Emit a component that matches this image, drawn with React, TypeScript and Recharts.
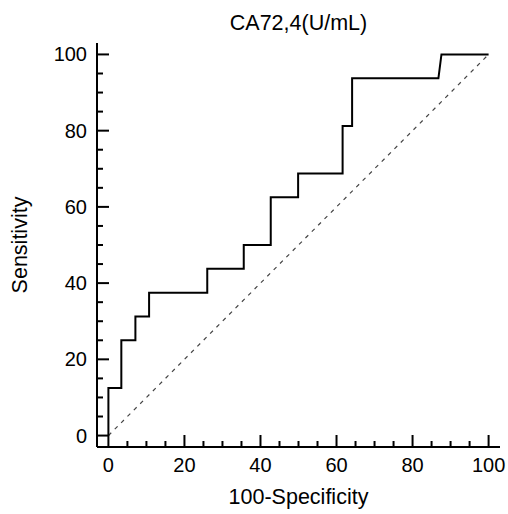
import { LineChart, Line, XAxis, YAxis, Label } from 'recharts';

// ROC curve corner points
const fpr = [0, 0, 3.4, 3.4, 7.1, 7.1, 10.7, 10.7, 26, 26, 35.6, 35.6, 42.7, 42.7, 49.9, 49.9, 61.6, 61.6, 64.1, 64.1, 86.8, 87.6, 100];
const tpr = [0, 12.5, 12.5, 25, 25, 31.25, 31.25, 37.5, 37.5, 43.75, 43.75, 50, 50, 62.5, 62.5, 68.75, 68.75, 81.25, 81.25, 93.75, 93.75, 100, 100];
const diagX = [0, 100];
const diagY = [0, 100];
const axisTicks = [0, 5, 10, 15, 20, 25, 30, 35, 40, 45, 50, 55, 60, 65, 70, 75, 80, 85, 90, 95, 100];

const rocData = fpr.map((x, i) => ({ x, y: tpr[i] }));
const diagData = diagX.map((x, i) => ({ x, y: diagY[i] }));

const FONT = '"Liberation Sans", Arial, sans-serif';

const XTick = (props: any) => {
  const { x, y, payload } = props;
  const major = payload.value % 20 === 0;
  return (
    <g>
      <line x1={x} x2={x} y1={y} y2={y - (major ? 12 : 6)} stroke="#000" strokeWidth={2} />
      {major && (
        <text x={x} y={y + 25} textAnchor="middle" fontSize={20} fontFamily={FONT} fill="#000">
          {payload.value}
        </text>
      )}
    </g>
  );
};

const YTick = (props: any) => {
  const { x, y, payload } = props;
  const major = payload.value % 20 === 0;
  return (
    <g>
      <line x1={x} x2={x + (major ? 12 : 6)} y1={y} y2={y} stroke="#000" strokeWidth={2} />
      {major && (
        <text x={x - 10} y={y + 7} textAnchor="end" fontSize={20} fontFamily={FONT} fill="#000">
          {payload.value}
        </text>
      )}
    </g>
  );
};

export default function App() {
  return (
    <div style={{ position: 'absolute', left: 0, top: 0, width: 508, height: 514, background: '#fff' }}>
      <div
        style={{
          position: 'absolute',
          left: 97,
          width: 403,
          top: 11,
          textAlign: 'center',
          fontFamily: FONT,
          fontSize: 21.5,
          lineHeight: '24px',
          color: '#000',
        }}
      >
        CA72,4(U/mL)
      </div>
      <LineChart width={508} height={514} margin={{ top: 43, right: 8, bottom: 0, left: 0 }}>
        <XAxis
          dataKey="x"
          type="number"
          domain={[-3, 103]}
          allowDataOverflow
          ticks={axisTicks}
          interval={0}
          tickSize={0}
          tickMargin={0}
          tickLine={false}
          tick={<XTick />}
          height={67}
          axisLine={{ stroke: '#000', strokeWidth: 2 }}
        >
          <Label
            content={({ viewBox }: any) => (
              <text
                x={viewBox.x + viewBox.width / 2}
                y={viewBox.y + 57}
                textAnchor="middle"
                fontSize={21.5}
                fontFamily={FONT}
                fill="#000"
              >
                100-Specificity
              </text>
            )}
          />
        </XAxis>
        <YAxis
          type="number"
          domain={[-3, 103]}
          allowDataOverflow
          ticks={axisTicks}
          interval={0}
          tickSize={0}
          tickMargin={0}
          tickLine={false}
          tick={<YTick />}
          width={97}
          axisLine={{ stroke: '#000', strokeWidth: 2 }}
        >
          <Label
            content={({ viewBox }: any) => {
              const cx = 27;
              const cy = viewBox.y + viewBox.height / 2;
              return (
                <text
                  x={cx}
                  y={cy}
                  transform={`rotate(-90 ${cx} ${cy})`}
                  textAnchor="middle"
                  fontSize={21.5}
                  fontFamily={FONT}
                  fill="#000"
                >
                  Sensitivity
                </text>
              );
            }}
          />
        </YAxis>
        <Line
          data={diagData}
          dataKey="y"
          type="linear"
          stroke="#444"
          strokeWidth={1.2}
          strokeDasharray="4 5"
          dot={false}
          activeDot={false}
          isAnimationActive={false}
        />
        <Line
          data={rocData}
          dataKey="y"
          type="linear"
          stroke="#000"
          strokeWidth={2}
          dot={false}
          activeDot={false}
          isAnimationActive={false}
        />
      </LineChart>
    </div>
  );
}
